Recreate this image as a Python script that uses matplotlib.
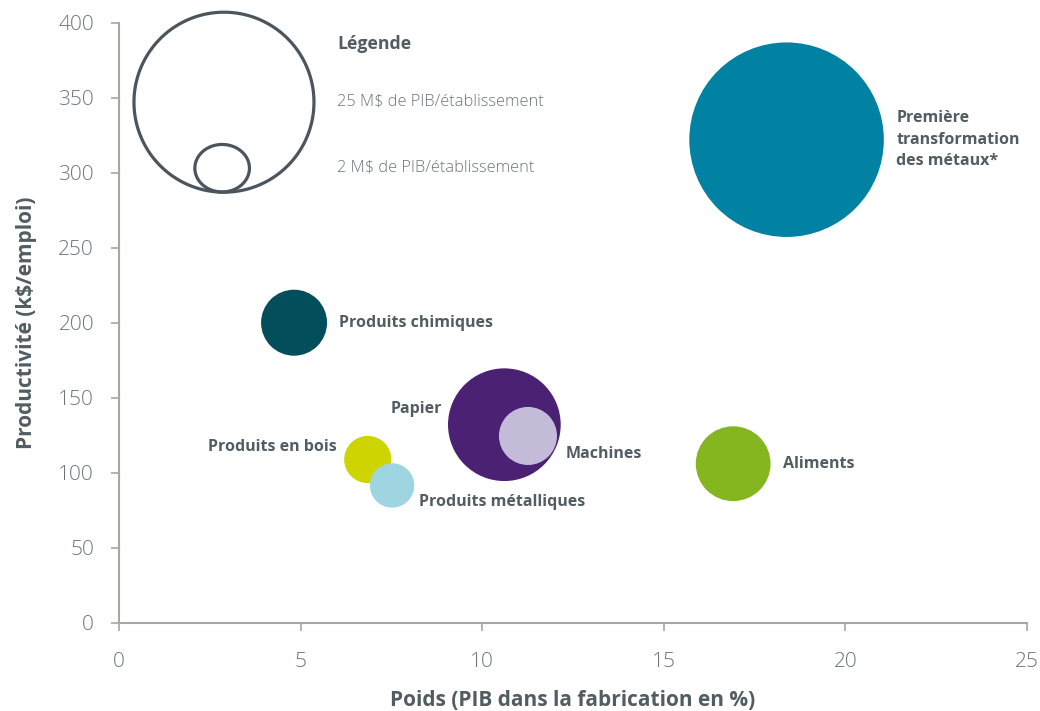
import matplotlib
matplotlib.use("Agg")
import matplotlib.pyplot as plt
import numpy as np
from matplotlib.path import Path

# ---- data ----
sectors = ["Première\ntransformation\ndes métaux*", "Produits chimiques", "Papier",
           "Machines", "Produits en bois", "Produits métalliques", "Aliments"]
weight_pct = [18.38, 4.82, 10.61, 11.26, 6.85, 7.52, 16.91]        # x
productivity = [322, 200, 132, 124.5, 108.8, 91.5, 106]           # y
gdp_per_est = [29.2, 3.36, 9.8, 2.6, 1.72, 1.52, 4.32]            # bubble size (M$)
colors = ["#0282a2", "#024e5b", "#4b2174", "#c4bbd9", "#cdd400", "#9fd5e0", "#84b71f"]
# label offsets (points) and alignment
label_offsets = [(79, 0), (32, 0), (-45, 11), (27, -13), (-22, 9), (19, -12), (36, 0)]
label_ha = ["left", "left", "right", "left", "right", "left", "left"]

legend_values = [25, 2]
legend_labels = ["25 M$ de PIB/établissement", "2 M$ de PIB/établissement"]
legend_x = [2.89, 2.84]
legend_y = [347, 303]

xticks = [0, 5, 10, 15, 20, 25]
yticks = [0, 50, 100, 150, 200, 250, 300, 350, 400]

# ---- style ----
FONT = ["Open Sans", "DejaVu Sans"]
plt.rcParams["font.family"] = FONT
TXT = "#525c63"
AX = "#aaa6a0"
TICK_TXT = "#6b757c"

# size scale: 25 M$ -> radius 90 px -> diameter 180 px = 129.6 pt
K = (180 * 0.72) ** 2 / 25.0

fig = plt.figure(figsize=(10.4, 7.11), dpi=100)
ax = fig.add_axes([119 / 1040, 1 - 622.7 / 711, (1027 - 119) / 1040, 600 / 711])

for i in range(len(sectors)):
    ax.scatter(weight_pct[i], productivity[i], s=K * gdp_per_est[i], color=colors[i],
               edgecolors="none", zorder=3 + i, clip_on=False)
    ax.annotate(sectors[i], (weight_pct[i], productivity[i]), xytext=label_offsets[i],
                textcoords="offset points", ha=label_ha[i], va="center",
                fontsize=11.5, fontweight="bold", color=TXT, linespacing=1.45,
                zorder=20)

# legend circles (small one slightly elliptical as in reference)
th = np.linspace(0, 2 * np.pi, 200)
aspects = [1.0, 0.87]
for v, lx, ly, asp in zip(legend_values, legend_x, legend_y, aspects):
    verts = np.column_stack([np.cos(th), asp * np.sin(th)])
    marker = Path(verts, closed=True)
    s = K * v / asp  # keep area, width defines size
    ax.scatter(lx, ly, s=s, marker=marker, facecolors="none", edgecolors="#4a555d",
               linewidths=2.3, zorder=30, clip_on=False)

ax.text(6.0, 385.5, "Légende", ha="left", va="center", fontsize=12.8,
        fontweight="bold", color=TXT)
for lab, ly in zip(legend_labels, [347.5, 303.5]):
    ax.text(6.0, ly, lab, ha="left", va="center", fontsize=11.8, fontweight="light",
            color=TICK_TXT)

ax.set_xlim(0, 25)
ax.set_ylim(0, 400)
ax.set_xticks(xticks)
ax.set_yticks(yticks)
for sp in ["top", "right"]:
    ax.spines[sp].set_visible(False)
for sp in ["left", "bottom"]:
    ax.spines[sp].set_color(AX)
    ax.spines[sp].set_linewidth(1.5)
ax.tick_params(axis="both", direction="out", length=6, width=1.2, color=AX,
               labelsize=15, labelcolor=TICK_TXT)
ax.tick_params(axis="x", pad=15)
ax.tick_params(axis="y", pad=12)
for lab in ax.get_xticklabels() + ax.get_yticklabels():
    lab.set_fontweight("light")

ax.set_xlabel("Poids (PIB dans la fabrication en %)", fontsize=15, fontweight="bold",
              color=TXT, labelpad=13)
ax.set_ylabel("Productivité (k$/emploi)", fontsize=15, fontweight="bold",
              color=TXT, labelpad=15)

fig.savefig("out.png", dpi=100)
